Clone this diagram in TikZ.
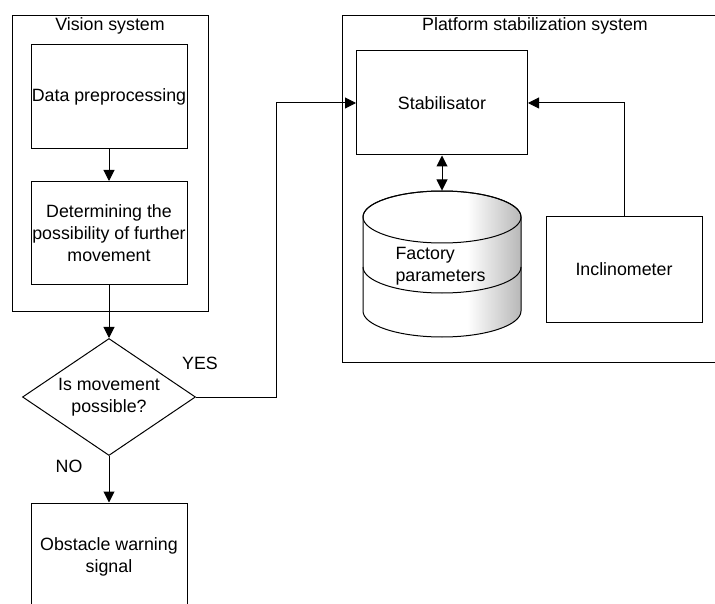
\documentclass[tikz,border=0pt]{standalone}
\usepackage{fontspec}
\setmainfont{Liberation Sans}
\usetikzlibrary{arrows.meta,shapes.geometric}
\pgfdeclarehorizontalshading{dbshade}{100bp}{color(0bp)=(white); color(58bp)=(white); color(75bp)=(black!28); color(100bp)=(black!28)}

\begin{document}
\begin{tikzpicture}[x=1pt, y=-1pt, line width=1pt,
		txt/.style={font=\fontsize{17.8}{22}\selectfont, align=center, inner sep=0pt},
		block/.style={txt, draw, minimum width=156pt, minimum height=104pt},
		frame/.style={draw, inner sep=0pt, anchor=north west},
		arr/.style={-{Triangle[length=11pt, width=11pt]}},
		twoarr/.style={{Triangle[length=11pt, width=11pt]}-{Triangle[length=11pt, width=11pt]}}]
		\useasboundingbox (0,0) rectangle (715,604);
		\clip (0,0) rectangle (715,604);

		% vision system
		\node[frame, minimum width=196pt, minimum height=296pt] (vision) at (12,15) {};
		\node[txt] (visiontitle) at (110,26) {Vision system};
		\node[block] (prep) at (109,97) {Data preprocessing};
		\node[block, minimum height=103pt] (det) at (109,233) {Determining the\\possibility of further\\movement};
		\draw[arr] (prep) -- (det);

		\node[txt, draw, diamond, aspect=1.48, minimum width=173pt, minimum height=117pt] (dec) at (109,397) {Is movement\\possible?};
		\draw[arr] (det) -- (dec);

		\node[block, minimum height=107pt] (warn) at (109,556.5) {Obstacle warning\\signal};
		\draw[arr] (dec) -- (warn);
		\node[txt] (no) at (69,466) {NO};
		\node[txt] (yes) at (200,363) {YES};

		% platform stabilization system
		\node[frame, minimum width=420pt, minimum height=347pt] (platform) at (342,15) {};
		\node[txt] (platformtitle) at (535,26) {Platform stabilization system};
		\node[block, minimum width=171pt] (stab) at (442,103) {Stabilisator};
		\node[block, minimum height=105pt] (incl) at (624,269.5) {Inclinometer};

		\node[inner sep=0pt, minimum width=158pt, minimum height=146pt] (db) at (442,264) {};
		\shade[shading=dbshade] (363,217) -- (363,311) arc[start angle=180, end angle=0, x radius=79, y radius=26]
			-- (521,217) arc[start angle=0, end angle=-180, x radius=79, y radius=26] -- cycle;
		\draw (363,217) -- (363,311) arc[start angle=180, end angle=0, x radius=79, y radius=26]
			-- (521,217) arc[start angle=0, end angle=-180, x radius=79, y radius=26] -- cycle;
		\draw (442,217) ellipse [x radius=79, y radius=26];
		\draw (363,267) arc[start angle=180, end angle=0, x radius=79, y radius=26];
		\node[txt, anchor=west, align=left] (dbtxt) at (395,266) {Factory\\parameters};

		\draw[twoarr] (stab) -- (db);
		\draw[arr] (incl.north) |- (stab.east);

		\coordinate (bend) at (276,397);
		\draw[arr] (dec.east) -- (bend) |- (stab.west);  % yes
	\end{tikzpicture}
\end{document}
